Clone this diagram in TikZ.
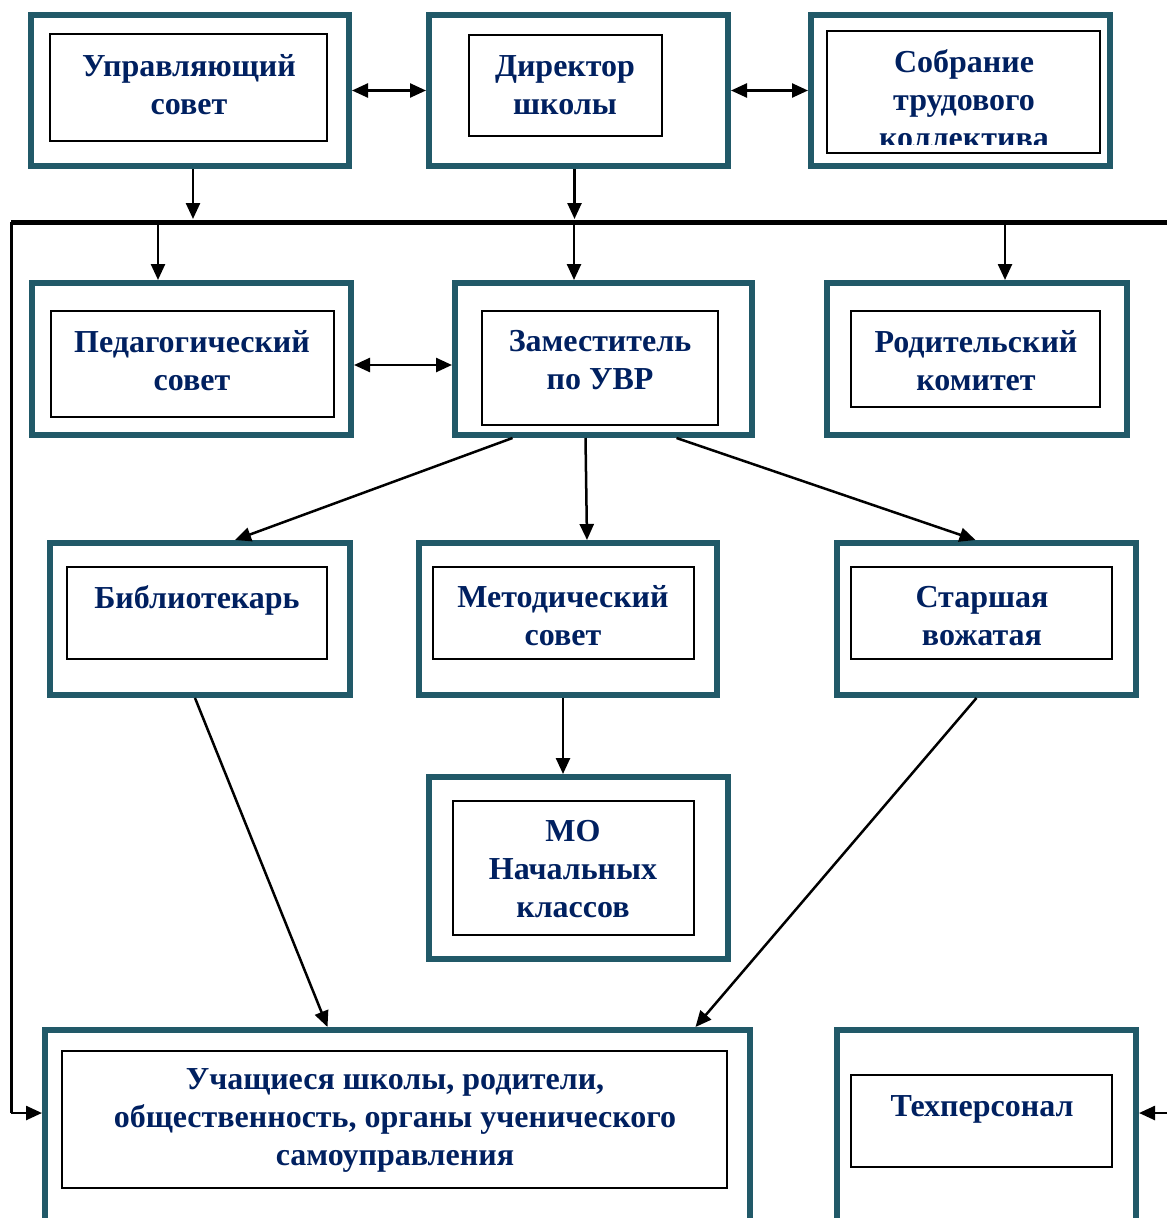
\documentclass[tikz,border=0pt]{standalone}
\usepackage{fontspec}
\setmainfont{Liberation Serif}
\usetikzlibrary{arrows.meta}
\definecolor{boxteal}{RGB}{33,89,104}
\definecolor{textnavy}{RGB}{0,32,96}

\begin{document}
\begin{tikzpicture}[x=1pt,y=-1pt,
  frame/.style={draw=boxteal,line width=6pt,inner sep=0pt},
  panel/.style={draw=black,line width=2pt,inner sep=0pt},
  caption/.style={text=textnavy,align=center,inner sep=0pt,font=\fontsize{32}{38}\selectfont\bfseries},
  link/.style={line width=2.5pt,-{Triangle[length=16pt,width=14pt]}},
  twoway/.style={line width=2.5pt,{Triangle[length=16pt,width=14pt]}-{Triangle[length=16pt,width=14pt]}},
  bus/.style={line width=5pt}]
\path[use as bounding box,clip] (0,0) rectangle (1167,1218);

% top row
\node[frame,minimum width=318pt,minimum height=151pt] (upr) at (190,90.5) {};
\node[panel,minimum width=277pt,minimum height=107pt] (upr-in) at (188.5,87.5) {};
\node[caption] (upr-t) at (189,85) {Управляющий\\совет};

\node[frame,minimum width=299pt,minimum height=151pt] (dir) at (578.5,90.5) {};
\node[panel,minimum width=193pt,minimum height=101pt] (dir-in) at (565.5,85.5) {};
\node[caption] (dir-t) at (565,85) {Директор\\школы};

\node[frame,minimum width=299pt,minimum height=151pt] (sob) at (960.5,90.5) {};
\node[panel,minimum width=273pt,minimum height=122pt] (sob-in) at (963.5,92) {};
\begin{scope}
\clip (sob-in.north west) rectangle ([yshift=10pt]sob-in.south east);
\node[caption] (sob-t) at (964,99) {Собрание\\трудового\\коллектива};
\end{scope}

% second row
\node[frame,minimum width=319pt,minimum height=152pt] (ped) at (191.5,359) {};
\node[panel,minimum width=283pt,minimum height=106pt] (ped-in) at (192.5,364) {};
\node[caption] (ped-t) at (192,361) {Педагогический\\совет};

\node[frame,minimum width=297pt,minimum height=152pt] (zam) at (603.5,359) {};
\node[panel,minimum width=236pt,minimum height=114pt] (zam-in) at (600,368) {};
\node[caption] (zam-t) at (600,360) {Заместитель\\по УВР};

\node[frame,minimum width=300pt,minimum height=152pt] (rod) at (977,359) {};
\node[panel,minimum width=249pt,minimum height=96pt] (rod-in) at (975.5,359) {};
\node[caption] (rod-t) at (976,361) {Родительский\\комитет};

% third row
\node[frame,minimum width=300pt,minimum height=152pt] (bib) at (200,619) {};
\node[panel,minimum width=260pt,minimum height=92pt] (bib-in) at (197,613) {};
\node[caption] (bib-t) at (197,600) {Библиотекарь};

\node[frame,minimum width=298pt,minimum height=152pt] (met) at (568,619) {};
\node[panel,minimum width=261pt,minimum height=92pt] (met-in) at (563.5,613) {};
\node[caption] (met-t) at (563,616) {Методический\\совет};

\node[frame,minimum width=299pt,minimum height=152pt] (sta) at (986.5,619) {};
\node[panel,minimum width=261pt,minimum height=92pt] (sta-in) at (981.5,613) {};
\node[caption] (sta-t) at (982,616) {Старшая\\вожатая};

\node[frame,minimum width=299pt,minimum height=182pt] (mo) at (578.5,868) {};
\node[panel,minimum width=241pt,minimum height=134pt] (mo-in) at (573.5,868) {};
\node[caption] (mo-t) at (573,869) {МО\\Начальных\\классов};

% bottom row
\node[frame,minimum width=705pt,minimum height=230pt] (uch) at (397.5,1145) {};
\node[panel,minimum width=665pt,minimum height=137pt] (uch-in) at (394.5,1119.5) {};
\node[caption] (uch-t) at (395,1120) {Учащиеся школы, родители,\\общественность, органы ученического\\самоуправления};

\node[frame,minimum width=299pt,minimum height=230pt] (teh) at (986.5,1145) {};
\node[panel,minimum width=261pt,minimum height=92pt] (teh-in) at (981.5,1121) {};
\node[caption] (teh-t) at (982,1109) {Техперсонал};

% bus and its taps
\coordinate (bus-w) at (11,222);
\coordinate (bus-e) at (1167,222);
\coordinate (tap-ped) at (158,224);
\coordinate (tap-zam) at (574,224);
\coordinate (tap-rod) at (1005,224);
\coordinate (loop) at (11,1113);
\coordinate (teh-feed) at (1167,1113);

\draw[bus] (bus-w) -- (bus-e);
\draw[line width=3pt] (bus-w) -- (loop);
\draw[link] (loop) -- (loop -| uch.west);
\draw[link] (teh-feed) -- (teh-feed -| teh.east);

\draw[twoway] (upr.east) -- (dir.west);
\draw[twoway] (dir.east) -- (sob.west);
\draw[twoway] ([yshift=-6pt]ped.east) -- ([yshift=-6pt]zam.west);

\draw[link] ([xshift=3pt]upr.south) -- ([xshift=3pt]upr.south |- 0,219);
\draw[link] ([xshift=-4pt]dir.south) -- ([xshift=-4pt]dir.south |- 0,219);
\draw[link] (tap-ped) -- (tap-ped |- ped.north);
\draw[link] (tap-zam) -- (tap-zam |- zam.north);
\draw[link] (tap-rod) -- (tap-rod |- rod.north);

\draw[link] ([xshift=-91pt]zam.south) -- ([xshift=35pt]bib.north);
\draw[link] ([xshift=-18pt]zam.south) -- ([xshift=19pt]met.north);
\draw[link] ([xshift=73pt]zam.south) -- ([xshift=-11pt]sta.north);
\draw[link] ([xshift=-5pt]met.south) -- ([xshift=-5pt]met.south |- mo.north);
\draw[link] ([xshift=-5pt]bib.south) -- ([xshift=-70pt]uch.north);
\draw[link] ([xshift=-10pt]sta.south) -- ([xshift=298pt]uch.north);
\end{tikzpicture}
\end{document}
